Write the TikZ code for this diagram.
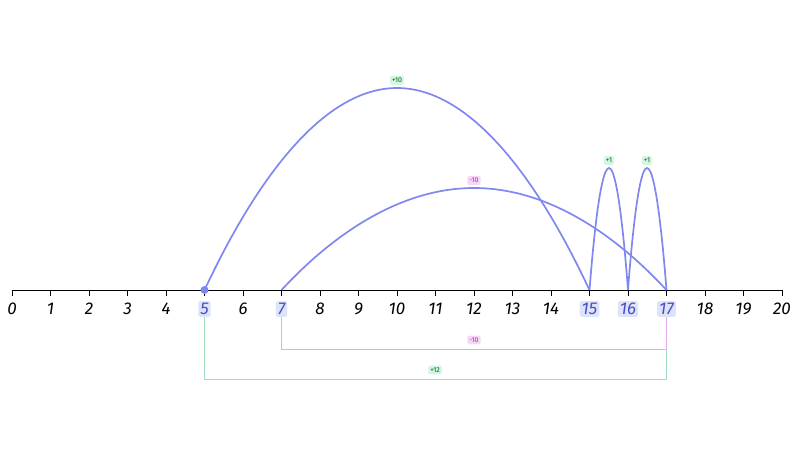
\documentclass[tikz,border=0pt]{standalone}
\usepackage{fontspec}
\setsansfont{Fira Sans}
\usetikzlibrary{positioning}
\definecolor{arcblue}{HTML}{8088F0}
\definecolor{hlfill}{HTML}{DDE3FB}
\definecolor{hltext}{HTML}{4A4FC0}
\definecolor{plusgreen}{HTML}{9EDFBE}
\definecolor{plusfill}{HTML}{D3F5E3}
\definecolor{minuspink}{HTML}{E8A8EE}
\definecolor{minusfill}{HTML}{F8D6F8}
\begin{document}
\begin{tikzpicture}[
    x=1pt, y=-1pt,
    num/.style={font=\sffamily\itshape\fontsize{17}{19}\selectfont, inner sep=2pt},
    hl/.style={num, fill=hlfill, text=hltext, rounded corners=2pt},
    jump/.style={arcblue, line width=1.7pt},
    badge/.style={font=\sffamily\fontsize{7}{8}\selectfont, inner sep=2pt, rounded corners=2pt},
    plus/.style={badge, fill=plusfill, text=green!40!black},
    minus/.style={badge, fill=minusfill, text=magenta!70!black}
]
    \useasboundingbox (0,0) rectangle (800,451);
    % Axis
    \draw[line width=1pt] (12,290) -- (782,290);
    \foreach \i in {0,...,20}{
        \coordinate (n\i) at ({12+38.5*\i},290);
        \draw (n\i) -- ++(0,6);
    }
    \foreach \i in {0,1,2,3,4,6,8,9,10,11,12,13,14,18,19,20}
        \node[num] (l\i) at ({12+38.5*\i},309) {\i};
    \foreach \i in {5,7,15,16,17}
        \node[hl] (l\i) at ({12+38.5*\i},309) {\i};

    % Jumps
    \coordinate (p1) at (397,88);
    \coordinate (p2) at (474,188);
    \coordinate (p3) at (609,168);
    \coordinate (p4) at (647,168);
    \draw[jump] (n5) parabola bend (p1) (n15);
    \draw[jump] (n7) parabola bend (p2) (n17);
    \draw[jump] (n15) parabola bend (p3) (n16);
    \draw[jump] (n16) parabola bend (p4) (n17);
    \fill[arcblue] (n5) circle (4pt);
    \node[plus, above=3pt of p1] (b1) {+10};
    \node[minus, above=3pt of p2] (b2) {-10};
    \node[plus, above=3pt of p3] (b3) {+1};
    \node[plus, above=3pt of p4] (b4) {+1};

    % Brackets
    \coordinate (d7) at (n7 |- 0,349);
    \coordinate (d17a) at (n17 |- 0,349);
    \coordinate (d5) at (n5 |- 0,379);
    \coordinate (d17b) at (n17 |- 0,379);
    \draw[plusgreen] (l5.south) -- (d5) -- (d17b) -- (d17a);
    \draw[minuspink] (l7.south) -- (d7) -- (d17a) -- (l17.south);
    \node[minus] (b5) at (474,340) {-10};
    \node[plus] (b6) at (435,370) {+12};
\end{tikzpicture}
\end{document}
